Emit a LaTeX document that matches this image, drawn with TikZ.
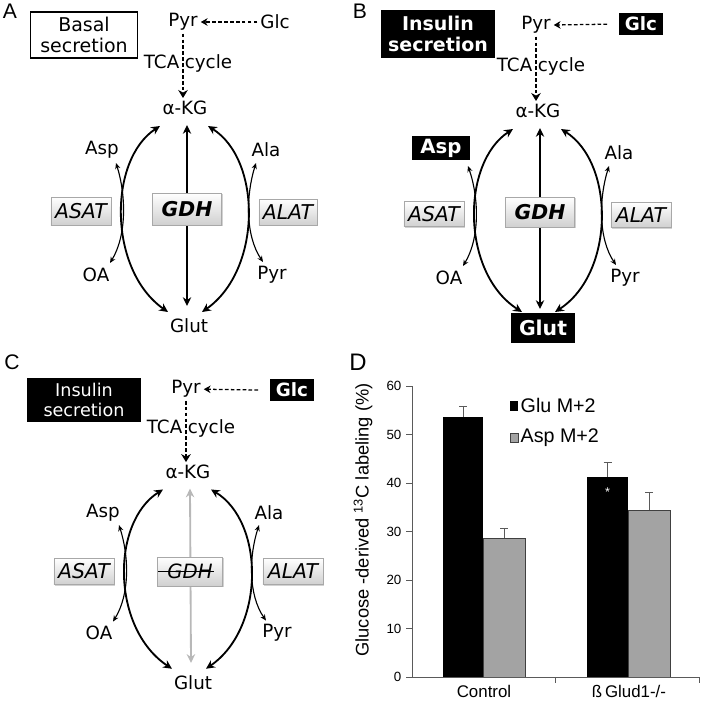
\documentclass[tikz,border=0pt]{standalone}
\usepackage{fontspec}
\setmainfont{DejaVu Sans}
\newfontfamily\chartfont{Liberation Sans}
\usetikzlibrary{arrows.meta,calc,shadows}
\definecolor{EnzFrame}{HTML}{A8A8A8}
\definecolor{EnzShade}{HTML}{D0D0D0}
\definecolor{BarGrey}{HTML}{A3A3A3}
\definecolor{LostGrey}{HTML}{B8B8B8}
\definecolor{AxisInk}{HTML}{5A5A5A}

\begin{document}
\begin{tikzpicture}[
      x=0.025cm,y=-0.025cm,
      metab/.style={font=\fontsize{13}{15}\selectfont,inner sep=2pt},
      hdr/.style={draw=black,line width=1pt,align=center,inner sep=0pt,
        font=\fontsize{13.5}{15.5}\selectfont},
      darkbox/.style={fill=black,text=white,align=center,inner sep=0pt,
        font=\fontsize{13}{15}\selectfont\bfseries},
      enzyme/.style={draw=EnzFrame,top color=white,bottom color=EnzShade,inner sep=0pt,
        font=\fontsize{14.5}{16}\selectfont\itshape,
        drop shadow={shadow xshift=0.9pt,shadow yshift=-0.9pt,fill=black!35}},
      bigarc/.style={{Stealth[length=2.2mm,width=2.1mm]}-{Stealth[length=2.2mm,width=2.1mm]},
        line width=1.3pt},
      smallarc/.style={{Stealth[length=1.5mm,width=1.3mm]}-{Stealth[length=1.5mm,width=1.3mm]},
        line width=0.8pt},
      feed/.style={-{Stealth[length=1.7mm,width=1.9mm]},line width=0.9pt,
        dash pattern=on 2.6pt off 1.6pt},
      panel/.style={font=\chartfont\fontsize{15}{17}\selectfont},
      axisline/.style={draw=AxisInk,line width=0.6pt},
      ticklab/.style={font=\chartfont\fontsize{9.5}{10}\selectfont,inner sep=3pt}
    ]
    \path[use as bounding box] (0,0) rectangle (700,706);

    % A: basal secretion
    \node[panel] (labA) at (10,11) {A};
    \node[hdr,minimum width=2.68cm,minimum height=1.15cm] (basal) at (84,35) {Basal\\secretion};
    \node[metab] (pyr) at (183,22) {Pyr};
    \node[metab] (glc) at (275,22) {Glc};
    \node[metab] (tca) at (188,63) {TCA\hspace{4pt}cycle};
    \node[metab] (kg) at (185,108) {α-KG};
    \node[metab] (asp) at (102,150) {Asp};
    \node[metab] (ala) at (266,150) {Ala};
    \node[metab] (oa) at (96,275) {OA};
    \node[metab] (pyrb) at (272,275) {Pyr};
    \node[metab] (glut) at (189,326) {Glut};
    \draw[feed] (glc.west) -- (pyr.east);
    \draw[feed,-{Stealth[length=2mm,width=2.4mm]}] (pyr.south) -- (pyr.south |- kg.north);
    \draw[bigarc] ($(kg)+(-25,18)$) .. controls (108,160) and (108,270) .. ($(glut)+(-21,-14)$);
    \draw[bigarc] ($(kg)+(23,18)$) .. controls (262,160) and (262,270) .. ($(glut)+(13,-14)$);
    \draw[bigarc] ($(kg)+(2,17)$) -- ($(glut)+(-2,-20)$);
    \draw[smallarc] ($(oa)+(14,-12)$) .. controls (127,235) and (126,195) .. ($(asp)+(14,13)$);
    \draw[smallarc] ($(ala)+(-10,13)$) .. controls (246,195) and (245,235) .. ($(pyrb)+(-9,-13)$);
    \node[enzyme,minimum width=1.5cm,minimum height=0.7cm] (asat) at (81,211) {ASAT};
    \node[enzyme,minimum width=1.72cm,minimum height=0.8cm,font=\fontsize{14.5}{16}\selectfont\bfseries\itshape]
      (gdh) at (187,209) {GDH};
    \node[enzyme,minimum width=1.45cm,minimum height=0.65cm] (alat) at (288,212) {ALAT};

    % B: insulin secretion
    \node[panel] (labB) at (360,11) {B};
    \begin{scope}[shift={(353,3)}]
      \node[darkbox,minimum width=2.83cm,minimum height=1.2cm,font=\fontsize{13.5}{15.5}\selectfont\bfseries]
        (insB) at (85,31) {Insulin\\secretion};
      \node[metab] (pyr) at (183,22) {Pyr};
      \node[darkbox,minimum width=1.12cm,minimum height=0.55cm] (glc) at (288,21) {Glc};
      \node[metab] (tca) at (188,63) {TCA\hspace{4pt}cycle};
      \node[metab] (kg) at (185,108) {α-KG};
      \node[darkbox,minimum width=1.45cm,minimum height=0.58cm,font=\fontsize{14}{16}\selectfont\bfseries]
        (asp) at (88,145) {Asp};
      \node[metab] (ala) at (266,150) {Ala};
      \node[metab] (oa) at (96,275) {OA};
      \node[metab] (pyrb) at (272,275) {Pyr};
      \node[darkbox,minimum width=1.62cm,minimum height=0.75cm,font=\fontsize{14.5}{16}\selectfont\bfseries]
        (glut) at (190,325) {Glut};
      \draw[feed,shorten <=8pt] (glc.west) -- (pyr.east);
      \draw[feed,-{Stealth[length=2mm,width=2.4mm]}] (pyr.south) -- (pyr.south |- kg.north);
      \draw[bigarc] ($(kg)+(-25,18)$) .. controls (108,160) and (108,270) .. ($(glut)+(-21,-16)$);
      \draw[bigarc] ($(kg)+(23,18)$) .. controls (262,160) and (262,270) .. ($(glut)+(12,-16)$);
      \draw[bigarc] ($(kg)+(2,17)$) -- ($(glut)+(-3,-19)$);
      \draw[smallarc] ($(oa)+(14,-12)$) .. controls (127,235) and (126,195) .. ($(asp)+(27,18)$);
      \draw[smallarc] ($(ala)+(-10,13)$) .. controls (246,195) and (245,235) .. ($(pyrb)+(-9,-13)$);
      \node[enzyme,minimum width=1.5cm,minimum height=0.62cm] (asat) at (81,211) {ASAT};
      \node[enzyme,minimum width=1.72cm,minimum height=0.75cm,font=\fontsize{14.5}{16}\selectfont\bfseries\itshape]
        (gdh) at (187,209) {GDH};
      \node[enzyme,minimum width=1.5cm,minimum height=0.62cm] (alat) at (288,212) {ALAT};
    \end{scope}

    % C: GDH knocked out
    \node[panel] (labC) at (12,362) {C};
    \begin{scope}[shift={(3,368)},yscale=0.964]
      \node[darkbox,minimum width=2.83cm,minimum height=1.1cm,font=\fontsize{12.5}{14.5}\selectfont]
        (insC) at (81,33) {Insulin\\secretion};
      \node[metab] (pyr) at (183,22) {Pyr};
      \node[darkbox,minimum width=1.12cm,minimum height=0.55cm] (glc) at (289,23) {Glc};
      \node[metab] (tca) at (188,63) {TCA\hspace{4pt}cycle};
      \node[metab] (kg) at (185,108) {α-KG};
      \node[metab] (asp) at (100,150) {Asp};
      \node[metab] (ala) at (266,150) {Ala};
      \node[metab] (oa) at (96,275) {OA};
      \node[metab] (pyrb) at (274,275) {Pyr};
      \node[metab] (glut) at (190,326) {Glut};
      \draw[feed,shorten <=8pt] (glc.west) -- (pyr.east);
      \draw[feed,-{Stealth[length=2mm,width=2.4mm]}] (pyr.south) -- (pyr.south |- kg.north);
      \draw[bigarc] ($(kg)+(-25,18)$) .. controls (108,160) and (108,270) .. ($(glut)+(-21,-14)$);
      \draw[bigarc] ($(kg)+(23,18)$) .. controls (262,160) and (262,270) .. ($(glut)+(13,-14)$);
      \draw[bigarc,draw=LostGrey] ($(kg)+(2,17)$) -- ($(glut)+(-2,-20)$);
      \draw[smallarc] ($(oa)+(14,-12)$) .. controls (127,235) and (126,195) .. ($(asp)+(16,13)$);
      \draw[smallarc] ($(ala)+(-10,13)$) .. controls (246,195) and (245,235) .. ($(pyrb)+(-11,-13)$);
      \node[enzyme,minimum width=1.5cm,minimum height=0.65cm] (asat) at (81,211) {ASAT};
      \node[enzyme,minimum width=1.62cm,minimum height=0.72cm,font=\fontsize{14}{16}\selectfont\itshape]
        (gdh) at (187,211) {GDH};
      \draw[line width=0.8pt] ($(gdh.west)+(1,0)$) -- ($(gdh.east)+(-9,0)$);
      \node[enzyme,minimum width=1.5cm,minimum height=0.65cm] (alat) at (290,211) {ALAT};
    \end{scope}

    % D: labelling chart
    \node[panel,font=\chartfont\fontsize{17}{19}\selectfont] (labD) at (358,362) {D};
    \node[rotate=90,font=\chartfont\fontsize{13}{15}\selectfont] (ylab) at (363,520)
      {Glucose -derived \textsuperscript{13}C labeling (\%)};
    \node[font=\chartfont\fontsize{12}{14}\selectfont] (ctrl) at (484,691) {Control};
    \node[font=\chartfont\fontsize{12}{14}\selectfont] (ko) at (629,691) {ß\,Glud1-/-};
    \begin{scope}[shift={(412,677)},y=0.12125cm]
      \fill[black] (31,0) rectangle (71,53.7);
      \filldraw[fill=BarGrey,draw=black!75,line width=0.5pt] (71,0) rectangle (113,28.6);
      \fill[black] (175,0) rectangle (216,41.3);
      \filldraw[fill=BarGrey,draw=black!75,line width=0.5pt] (216,0) rectangle (258,34.4);
      \draw[axisline] (51,53.7) -- (51,55.8) (47,55.8) -- (55,55.8);
      \draw[axisline] (92,28.6) -- (92,30.7) (88,30.7) -- (96,30.7);
      \draw[axisline] (195.5,41.3) -- (195.5,44.3) (191.5,44.3) -- (199.5,44.3);
      \draw[axisline] (237,34.4) -- (237,38.1) (233,38.1) -- (241,38.1);
      \node[text=white,font=\chartfont\fontsize{9}{10}\selectfont] (star) at (195.5,38.2) {*};
      \draw[axisline] (0,0) -- (0,60);
      \draw[axisline] (0,0) -- (287,0);
      \draw[axisline] (143,0) -- (143,-1.3) (287,0) -- (287,-1.3);
      \foreach \v in {0,10,...,60}
        \draw[axisline] (0,\v) -- (-6,\v) node[left,ticklab,text=black] (tick\v) {\v};
      \fill[black] (98,54.9) rectangle (106,56.8);
      \node[anchor=west,font=\chartfont\fontsize{14}{16}\selectfont,inner sep=1pt] (glulab) at (107,55.9) {Glu M+2};
      \filldraw[fill=BarGrey,draw=black!75,line width=0.5pt] (98,48.3) rectangle (106,50.2);
      \node[anchor=west,font=\chartfont\fontsize{14}{16}\selectfont,inner sep=1pt] (asplab) at (107,49.3) {Asp M+2};
    \end{scope}
  \end{tikzpicture}
\end{document}
